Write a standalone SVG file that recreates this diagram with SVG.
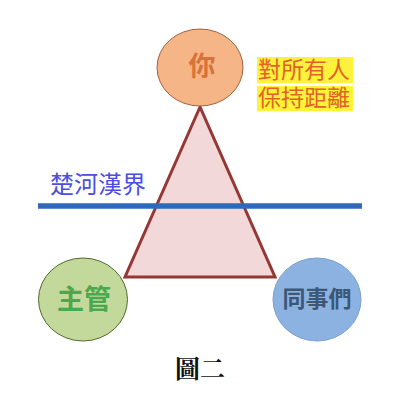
<svg xmlns="http://www.w3.org/2000/svg" width="408" height="408" viewBox="0 0 408 408">
<style>
.lbl{font-family:"Noto Sans CJK TC","Noto Sans CJK SC",sans-serif;font-weight:bold;text-anchor:middle;dominant-baseline:central}
.note{font-family:"Noto Sans CJK TC","Noto Sans CJK SC",sans-serif;font-size:23px;fill:#e2622a}
</style>
<rect width="408" height="408" fill="#ffffff"/>
<g id="connectors">
<polygon points="200,107 125,277 275,277" fill="#f2d8d8" stroke="#953735" stroke-width="3" stroke-linejoin="miter"/>
<line x1="38" y1="206" x2="362" y2="206" stroke="#2e6ab8" stroke-width="5.5"/>
</g>
<g id="node-you">
<ellipse cx="200" cy="67.5" rx="43" ry="38.5" fill="#f6b587" stroke="#a0603a" stroke-width="1"/>
<text class="lbl" x="202" y="64" font-size="27" fill="#d9723a">你</text>
</g>
<g id="node-boss">
<ellipse cx="83" cy="299.5" rx="44.5" ry="41.5" fill="#c3d89b" stroke="#4f6b2a" stroke-width="1"/>
<text class="lbl" x="84" y="297" font-size="27" fill="#4aa84e">主管</text>
</g>
<g id="node-colleagues">
<ellipse cx="317" cy="299.5" rx="44" ry="41.5" fill="#8cb2e2" stroke="#7a9fcc" stroke-width="1"/>
<text class="lbl" x="317" y="297" font-size="23" fill="#3c5875">同事們</text>
</g>
<g id="note">
<rect x="257" y="57" width="96" height="26" fill="#fff23a"/>
<rect x="257" y="86" width="96" height="25" fill="#fff23a"/>
<text class="note" x="258" y="78">對所有人</text>
<text class="note" x="258" y="106">保持距離</text>
</g>
<text x="50" y="193" font-family="'Noto Sans CJK TC','Noto Sans CJK SC',sans-serif" font-size="24" fill="#4b4ee0">楚河漢界</text>
<text x="200" y="378" text-anchor="middle" font-family="'Noto Serif CJK TC','Noto Sans CJK TC',serif" font-size="25" font-weight="bold" fill="#111111">圖二</text>
</svg>
